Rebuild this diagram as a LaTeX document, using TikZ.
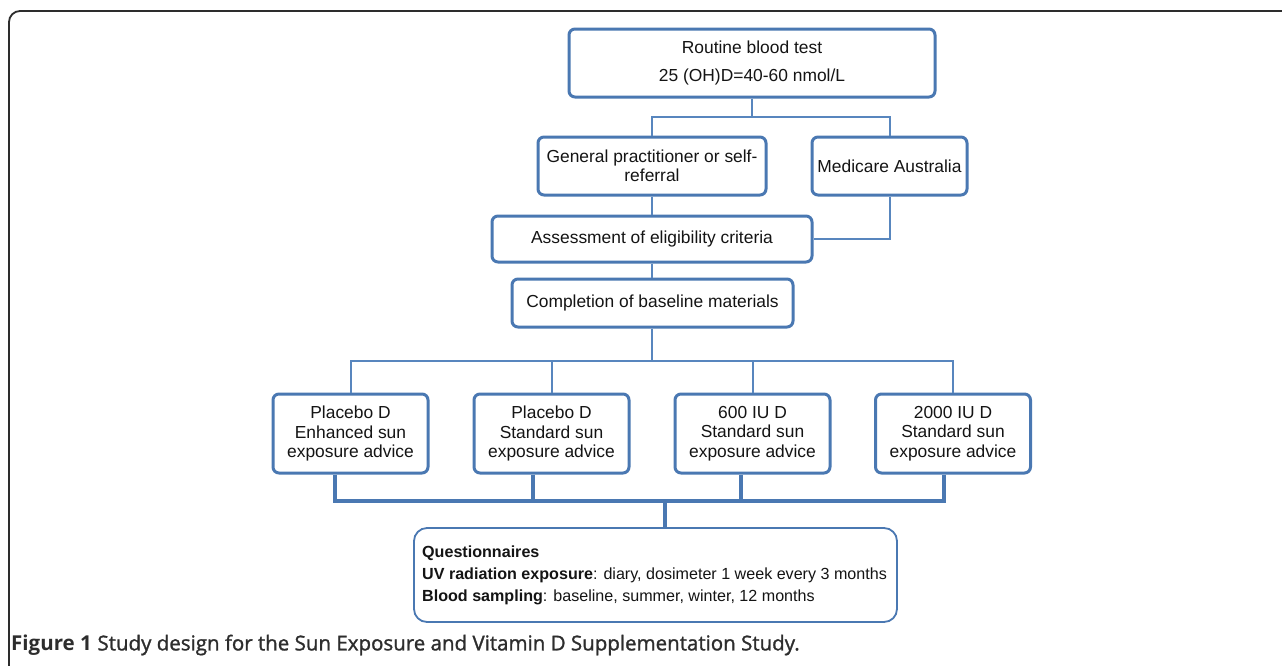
\documentclass[tikz,border=0pt]{standalone}
\usepackage{fontspec}
\setmainfont{Liberation Sans}
\newfontfamily\capfont{Open Sans}
\newfontfamily\capsemi[FakeBold=1.3]{Open Sans}
\definecolor{bbord}{RGB}{74,120,178}
\definecolor{bline}{RGB}{88,134,190}
\definecolor{framec}{RGB}{45,45,45}
\definecolor{txt}{RGB}{20,20,20}
\tikzset{
  box/.style={draw=bbord, line width=3pt, rounded corners=6pt, fill=white,
    align=center, inner sep=0pt, text=txt, font=\fontsize{17.4}{19.5}\selectfont},
  thin/.style={draw=bline, line width=2pt},
  thick/.style={draw=bbord, line width=4.6pt},
}
\begin{document}
\begin{tikzpicture}[x=1pt,y=-1pt]
\useasboundingbox (0,0) rectangle (1282,665);
\fill[white] (0,0) rectangle (1282,665);
% frame
\draw[framec, line width=1.8pt, rounded corners=11pt] (9,667) -- (9,11) -- (1284,11);
% nodes
\node[box, minimum width=366pt, minimum height=68pt, font=\fontsize{17.4}{28}\selectfont] (b1) at (752,63) {Routine blood test\\25 (OH)D=40-60 nmol/L};
\node[box, minimum width=228pt, minimum height=58pt] (gp) at (652,166) {General practitioner or self-\\referral};
\node[box, minimum width=155pt, minimum height=58pt] (med) at (889.5,166) {Medicare Australia};
\node[box, minimum width=320pt, minimum height=46pt] (as) at (652,239) {Assessment of eligibility criteria};
\node[box, minimum width=281pt, minimum height=48pt] (cp) at (652.5,303) {Completion of baseline materials};
\node[box, minimum width=155pt, minimum height=79pt] (ga) at (350.5,433.5) {Placebo D\\Enhanced sun\\exposure advice};
\node[box, minimum width=155pt, minimum height=79pt] (gb) at (551.5,433.5) {Placebo D\\Standard sun\\exposure advice};
\node[box, minimum width=155pt, minimum height=79pt] (gc) at (752.5,433.5) {600 IU D\\Standard sun\\exposure advice};
\node[box, minimum width=155pt, minimum height=79pt] (gd) at (953,433.5) {2000 IU D\\Standard sun\\exposure advice};
\node[draw=bbord, line width=1.8pt, rounded corners=13pt, fill=white, minimum width=483pt, minimum height=94pt, inner sep=0pt] (q) at (655.5,575) {};
\node[anchor=west, align=left, text=txt, font=\fontsize{16.1}{22}\selectfont, inner sep=0pt] (qt) at (422,575)
  {\textbf{Questionnaires}\\\textbf{UV radiation exposure}: diary, dosimeter 1 week every 3 months\\\textbf{Blood sampling}: baseline, summer, winter, 12 months};
% caption
\node[anchor=west, inner sep=0pt, text=framec, font=\fontsize{20.5}{24}\selectfont] (cap) at (11,645)
  {{\capfont\bfseries Figure 1} {\capsemi Study design for the Sun Exposure and Vitamin D Supplementation Study.}};
% connectors
\coordinate (j1) at (752,117);
\coordinate (j2) at (652,361);
\draw[thin] (b1.south) -- (j1);
\draw[thin] (gp.north) |- (j1) -| (med.north);
\draw[thin] (gp.south) -- (as.north);
\draw[thin] (med.south) |- (as.east);
\draw[thin] (as.south) -- (as.south |- cp.north);
\draw[thin] (cp.south -| j2) -- (j2);
\draw[thin] (ga.north) |- (j2) -| (gd.north);
\draw[thin] (gb.north) -- (gb.north |- j2);
\draw[thin] (gc.north) -- (gc.north |- j2);
% thick connectors
\coordinate (t1) at (335,501);
\coordinate (t2) at (533,501);
\coordinate (t3) at (741,501);
\coordinate (t4) at (944,501);
\coordinate (st) at (665,501);
\draw[thick] (t1 |- ga.south) -- (t1);
\draw[thick] (t2 |- gb.south) -- (t2);
\draw[thick] (t3 |- gc.south) -- (t3);
\draw[thick] (t4 |- gd.south) -- (t4);
\draw[thick, line cap=rect] (t1) -- (t4);
\draw[thick] (st) -- (st |- q.north);
\end{tikzpicture}
\end{document}
